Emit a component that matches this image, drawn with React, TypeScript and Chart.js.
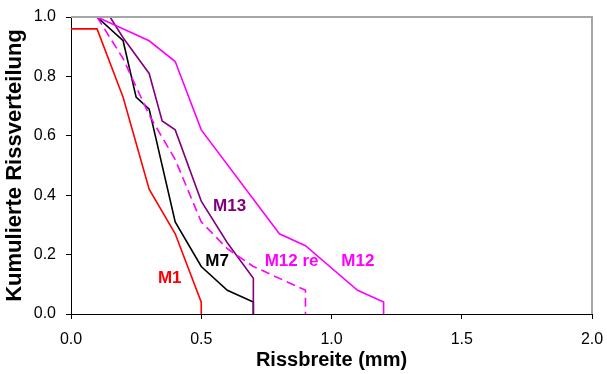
import React, { useEffect, useRef } from "react";
import { Chart, registerables } from "chart.js";

Chart.register(...registerables);

const m1X = [0, 0.1, 0.2, 0.3, 0.4, 0.5, 0.5];
const m1Y = [0.96, 0.96, 0.73, 0.42, 0.27, 0.04, 0];

const m7X = [0.1, 0.2, 0.25, 0.3, 0.4, 0.5, 0.6, 0.7, 0.7];
const m7Y = [1.0, 0.92, 0.73, 0.69, 0.31, 0.16, 0.08, 0.04, 0];

const m13X = [0.15, 0.2, 0.3, 0.35, 0.4, 0.5, 0.6, 0.7, 0.7];
const m13Y = [1.0, 0.93, 0.81, 0.65, 0.62, 0.38, 0.24, 0.12, 0];

const m12reX = [0.1, 0.2, 0.3, 0.4, 0.5, 0.6, 0.7, 0.9, 0.9];
const m12reY = [1.0, 0.86, 0.67, 0.52, 0.31, 0.22, 0.16, 0.08, 0];

const m12X = [0.1, 0.3, 0.4, 0.5, 0.8, 0.9, 1.1, 1.2, 1.2];
const m12Y = [1.0, 0.92, 0.85, 0.62, 0.27, 0.23, 0.08, 0.04, 0];

const xTicks = [0, 0.5, 1.0, 1.5, 2.0];
const yTicks = [0, 0.2, 0.4, 0.6, 0.8, 1.0];

const labelTexts = ["M1", "M7", "M13", "M12 re", "M12"];
const labelX = [0.379, 0.561, 0.609, 0.847, 1.101];
const labelY = [0.12, 0.176, 0.362, 0.176, 0.176];
const labelColors = ["#FF0000", "#000000", "#800080", "#FF00FF", "#FF00FF"];

const FONT = "'Liberation Sans', Arial, sans-serif";

const toPts = (xs: number[], ys: number[]) => xs.map((x, i) => ({ x, y: ys[i] }));

export default function App() {
  const ref = useRef<HTMLCanvasElement | null>(null);
  useEffect(() => {
    document.body.style.margin = "0";
    const canvas = ref.current;
    if (!canvas) return;

    const labelPlugin = {
      id: "seriesLabels",
      afterDatasetsDraw(chart: any) {
        const ctx = chart.ctx;
        const xs = chart.scales.x;
        const ys = chart.scales.y;
        ctx.save();
        ctx.font = "bold 17px " + FONT;
        ctx.textAlign = "center";
        ctx.textBaseline = "middle";
        labelTexts.forEach((t, i) => {
          ctx.fillStyle = labelColors[i];
          ctx.fillText(t, xs.getPixelForValue(labelX[i]), ys.getPixelForValue(labelY[i]));
        });
        const a = chart.chartArea;
        ctx.strokeStyle = "#A6A6A6";
        ctx.lineWidth = 2;
        ctx.beginPath();
        ctx.moveTo(a.left, a.top);
        ctx.lineTo(a.right, a.top);
        ctx.lineTo(a.right, a.bottom);
        ctx.stroke();
        ctx.restore();
      },
    };

    const mk = (label: string, xs: number[], ys: number[], color: string, dash?: number[]) => ({
      label,
      data: toPts(xs, ys),
      showLine: true,
      borderColor: color,
      backgroundColor: color,
      borderWidth: 1.6,
      borderDash: dash || [],
      pointRadius: 0,
      tension: 0,
    });

    const chart = new Chart(canvas, {
      type: "scatter",
      data: {
        datasets: [
          mk("M12", m12X, m12Y, "#FF00FF"),
          mk("M12 re", m12reX, m12reY, "#FF00FF", [9, 5]),
          mk("M13", m13X, m13Y, "#800080"),
          mk("M7", m7X, m7Y, "#000000"),
          mk("M1", m1X, m1Y, "#FF0000"),
        ],
      },
      options: {
        animation: false,
        responsive: false,
        devicePixelRatio: 1,
        layout: { padding: { left: 0, top: 17, right: 15, bottom: 0 } },
        plugins: { legend: { display: false }, tooltip: { enabled: false } },
        scales: {
          x: {
            type: "linear",
            min: 0,
            max: 2,
            afterBuildTicks: (s: any) => {
              s.ticks = xTicks.map((v) => ({ value: v }));
            },
            afterFit: (s: any) => {
              s.height = 60;
              s.paddingLeft = 0;
              s.paddingRight = 0;
            },
            border: { color: "#000", width: 1 },
            grid: { display: true, drawOnChartArea: false, drawTicks: true, tickLength: 5, color: "#000" },
            ticks: {
              color: "#000",
              font: { family: FONT, size: 16 },
              padding: 11,
              maxRotation: 0,
              callback: (v: any) => Number(v).toFixed(1),
            },
            title: {
              display: true,
              text: "Rissbreite (mm)",
              color: "#000",
              font: { family: FONT, size: 20, weight: "bold" },
              padding: { top: 0, bottom: 2 },
            },
          },
          y: {
            type: "linear",
            min: 0,
            max: 1,
            afterBuildTicks: (s: any) => {
              s.ticks = yTicks.map((v) => ({ value: v }));
            },
            afterFit: (s: any) => {
              s.width = 71;
              s.paddingTop = 0;
              s.paddingBottom = 0;
            },
            border: { color: "#000", width: 1 },
            grid: { display: true, drawOnChartArea: false, drawTicks: true, tickLength: 5, color: "#000" },
            ticks: {
              color: "#000",
              font: { family: FONT, size: 16 },
              padding: 10,
              callback: (v: any) => Number(v).toFixed(1),
            },
            title: {
              display: true,
              text: "Kumulierte Rissverteilung",
              color: "#000",
              font: { family: FONT, size: 22, weight: "bold" },
              padding: { top: 2, bottom: 0 },
            },
          },
        },
      },
      plugins: [labelPlugin],
    });
    return () => chart.destroy();
  }, []);
  return (
    <div style={{ width: 607, height: 374 }}>
      <canvas ref={ref} width={607} height={374} style={{ display: "block" }} />
    </div>
  );
}
